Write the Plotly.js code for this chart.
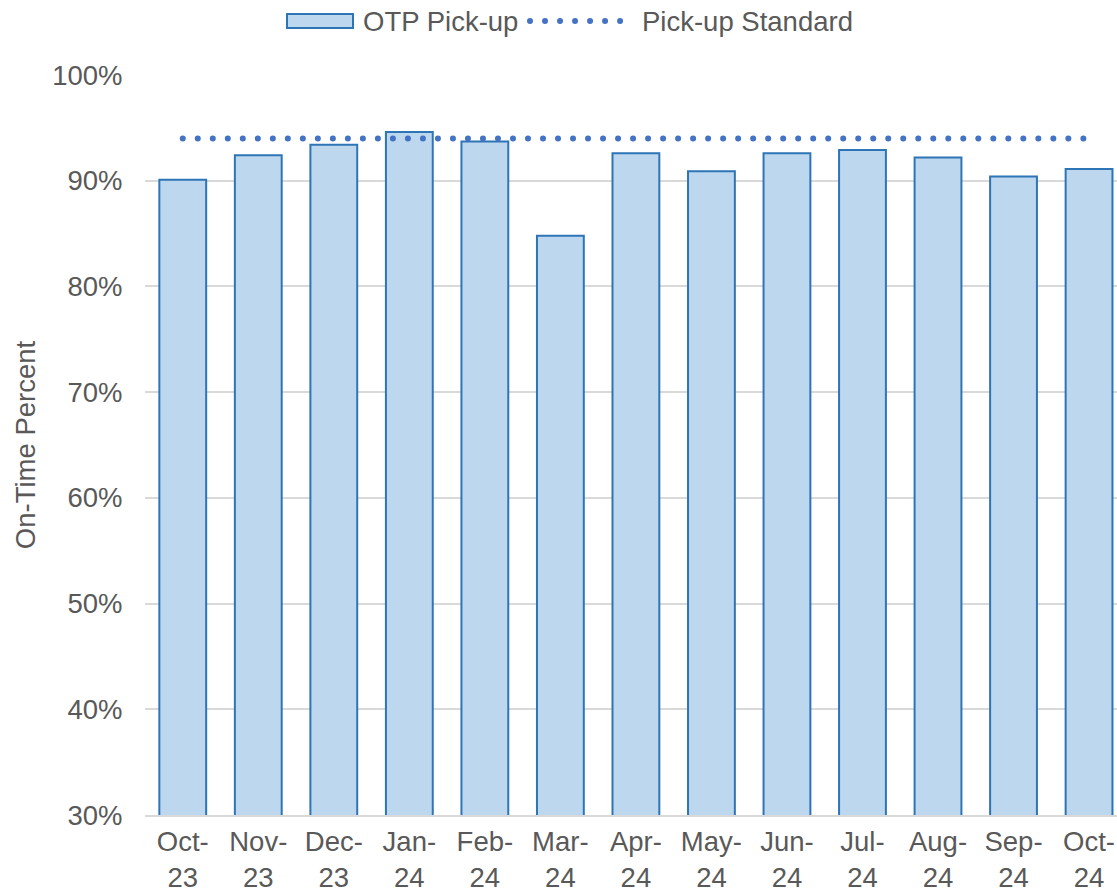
<!DOCTYPE html>
<html>
<head>
<meta charset="utf-8">
<script src="https://cdn.plot.ly/plotly-3.0.1.min.js"></script>
<style>
html, body { margin: 0; padding: 0; background: #fff; }
#chart { width: 1117px; height: 894px; }
.js-line, .shapelayer path { stroke-linecap: round; }
</style>
</head>
<body>
<div id="chart"></div>
<script>
const months = ["Oct-<br>23","Nov-<br>23","Dec-<br>23","Jan-<br>24","Feb-<br>24","Mar-<br>24","Apr-<br>24","May-<br>24","Jun-<br>24","Jul-<br>24","Aug-<br>24","Sep-<br>24","Oct-<br>24"];
const otpPickup = [90.1, 92.4, 93.4, 94.6, 93.7, 84.8, 92.6, 90.9, 92.6, 92.9, 92.2, 90.4, 91.1];
const pickupStandard = [94, 94, 94, 94, 94, 94, 94, 94, 94, 94, 94, 94, 94];
const yTicks = [30, 40, 50, 60, 70, 80, 90, 100];
const yTickLabels = ["30%", "40%", "50%", "60%", "70%", "80%", "90%", "100%"];
const seriesNames = ["OTP Pick-up", "Pick-up Standard"];

const textColor = "#595959";
const font = "Liberation Sans, Arial, sans-serif";
const fs = 27.5;

const traces = [
  {
    type: "bar",
    name: seriesNames[0],
    x: months,
    y: otpPickup,
    width: 0.62,
    marker: { color: "#BDD7EE", line: { color: "#2E75B6", width: 2 } },
    showlegend: false
  },
  {
    type: "scatter",
    mode: "lines",
    name: seriesNames[1],
    x: months,
    y: pickupStandard,
    line: { color: "#4472C4", width: 6, dash: "0.01px,15px" },
    showlegend: false
  }
];

// custom legend (paper coordinates, plot area 145..1117 x 75..815 px)
const px = v => (v - 145) / 972;
const py = v => (815 - v) / 740;

const layout = {
  width: 1117,
  height: 894,
  margin: { l: 145, r: 0, t: 75, b: 79 },
  paper_bgcolor: "#ffffff",
  plot_bgcolor: "#ffffff",
  font: { family: font, size: fs, color: textColor },
  showlegend: false,
  xaxis: {
    type: "category",
    range: [-0.5, 12.37],
    tickfont: { family: font, size: fs, color: textColor },
    showgrid: false,
    showline: true,
    linecolor: "#D9D9D9",
    linewidth: 2,
    ticks: "outside",
    ticklen: 1,
    tickcolor: "rgba(0,0,0,0)",
    fixedrange: true
  },
  yaxis: {
    range: [30, 100],
    tickvals: yTicks,
    ticktext: yTickLabels,
    tickfont: { family: font, size: fs, color: textColor },
    showgrid: true,
    gridcolor: "#D9D9D9",
    gridwidth: 2,
    zeroline: false,
    showline: false,
    ticks: "outside",
    ticklen: 16,
    tickcolor: "rgba(0,0,0,0)",
    title: { text: "On-Time Percent", font: { family: font, size: fs, color: textColor }, standoff: 8 },
    fixedrange: true
  },
  shapes: [
    { type: "rect", xref: "paper", yref: "paper", x0: px(287), x1: px(353), y0: py(28), y1: py(14),
      fillcolor: "#BDD7EE", line: { color: "#2E75B6", width: 2 } },
    { type: "line", xref: "paper", yref: "paper", x0: px(530), x1: px(632), y0: py(21), y1: py(21),
      line: { color: "#4472C4", width: 6, dash: "0.01px,15px" } }
  ],
  annotations: [
    { xref: "paper", yref: "paper", x: px(361), y: py(21), xanchor: "left", yanchor: "middle",
      text: seriesNames[0], showarrow: false, font: { family: font, size: fs, color: textColor } },
    { xref: "paper", yref: "paper", x: px(640), y: py(21), xanchor: "left", yanchor: "middle",
      text: seriesNames[1], showarrow: false, font: { family: font, size: fs, color: textColor } }
  ]
};

Plotly.newPlot("chart", traces, layout, { displayModeBar: false, staticPlot: true });
</script>
</body>
</html>
